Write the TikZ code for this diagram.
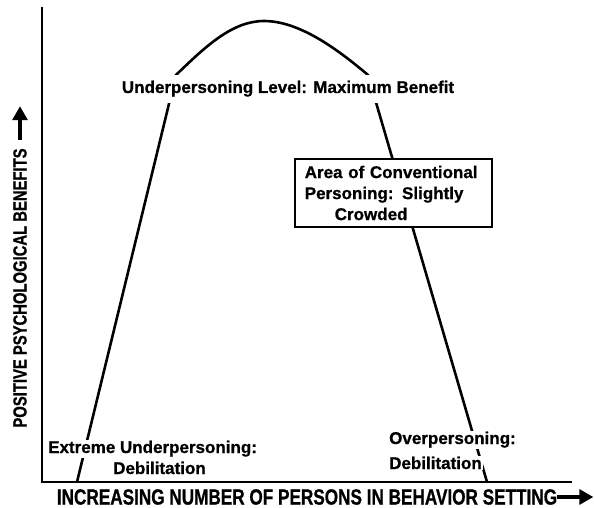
\documentclass[tikz,border=0pt]{standalone}
\usepackage{fontspec}
\setmainfont{Liberation Sans}
\newfontfamily\labfont[FakeBold=0.8]{Liberation Sans}
\newfontfamily\axisfont[FakeStretch=0.78,FakeBold=0.8]{Liberation Sans}
\usetikzlibrary{arrows.meta}

\tikzset{
    axarrow/.style={line width=3.2pt,-{Triangle[length=14pt,width=15pt]}},
    labelfont/.style={font=\labfont\bfseries\fontsize{17}{21}\selectfont}
}

\begin{document}
\begin{tikzpicture}[x=1pt,y=-1pt]
        \useasboundingbox (0,0) rectangle (594,508);

        % axes
        \draw[line width=2.3pt] (42,7) -- (42,482) -- (572,482);

        % benefit curve
        \coordinate (L0) at (77,482);
        \coordinate (L1) at (176,75);
        \coordinate (P) at (264,21);
        \coordinate (R1) at (368,75);
        \coordinate (R0) at (487,482);
        \draw[line width=2.6pt, line join=round] (L0) -- (L1)
            .. controls (205,47) and (232,21) .. (P)
            .. controls (298,21) and (335,47) .. (R1) -- (R0);

        \begin{scope}[every node/.style={fill=white,inner sep=1pt,labelfont}]
            \node[anchor=base,inner ysep=6pt] (peak) at (288,93) {Underpersoning Level: Maximum Benefit};
            \node[anchor=base west] (extreme) at (47,453) {Extreme Underpersoning:};
            \node[anchor=base west] (extremedeb) at (112,474) {Debilitation};
            \node[anchor=base west] (over) at (388,444) {Overpersoning:};
            \node[anchor=base west] (overdeb) at (388,469) {Debilitation};
            \node[draw,line width=1.5pt,anchor=north west,align=left,text width=177pt,
                  inner xsep=10pt,inner ysep=7pt] (conv) at (294,158)
                {Area of Conventional\\Personing: Slightly\\\hspace*{30pt}Crowded};
        \end{scope}

        % axis labels
        \node[font=\axisfont\bfseries\fontsize{22}{24}\selectfont,inner sep=0pt] (xlabel) at (307,497)
            {INCREASING NUMBER OF PERSONS IN BEHAVIOR SETTING};
        \draw[axarrow] (xlabel.east) -- ++(36,0);
        \node[font=\axisfont\bfseries\fontsize{19}{21}\selectfont,inner sep=0pt,rotate=90] (ylabel) at (20,288)
            {POSITIVE PSYCHOLOGICAL BENEFITS};
        \draw[axarrow,shorten <=8pt] (ylabel.east) -- ++(0,-42);
    \end{tikzpicture}
\end{document}
